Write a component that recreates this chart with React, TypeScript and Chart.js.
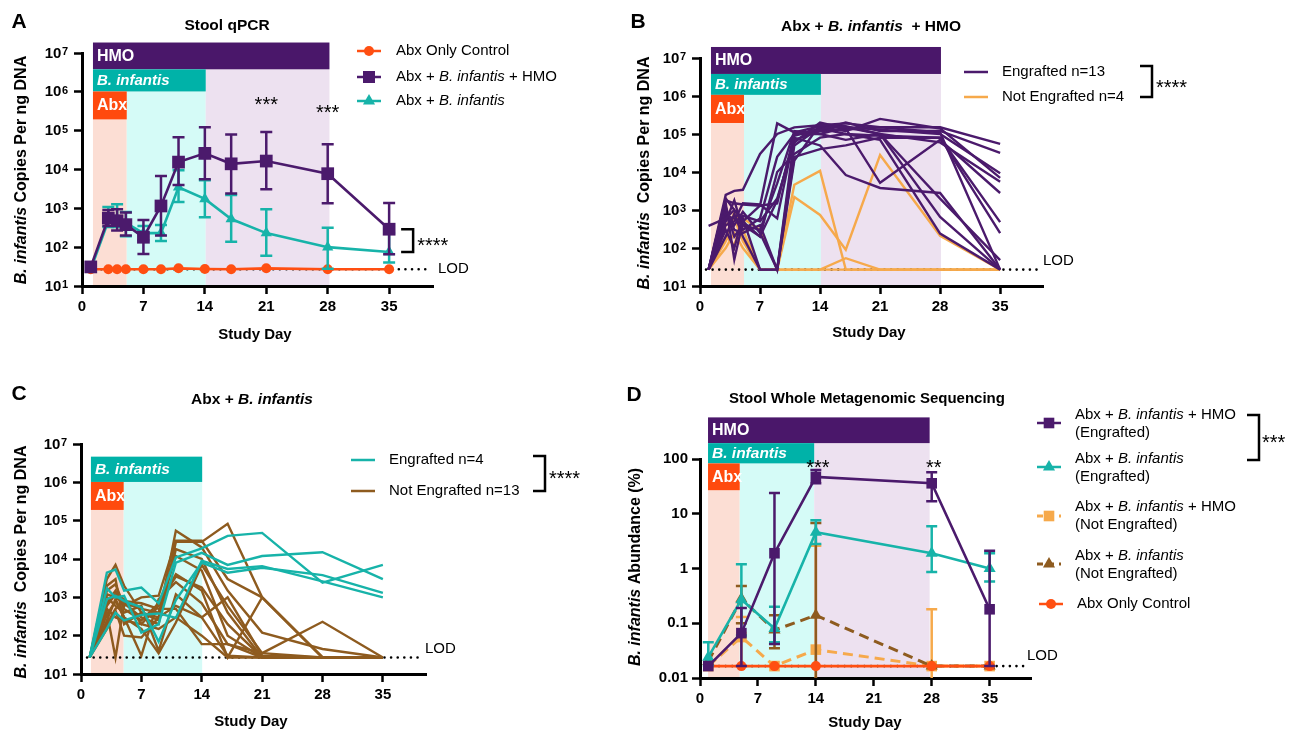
import React, { useEffect, useRef } from 'react';
import { Chart, registerables } from 'chart.js';

Chart.register(...registerables);

const FONT = '"Liberation Sans", Arial, Helvetica, sans-serif';

// ---------- colours ----------
const C_PURPLE = '#4B1A6C';
const C_TEAL = '#17B3A9';
const C_ORANGE = '#FF4F12';
const C_LIGHTOR = '#F6A94B';
const C_BROWN = '#8E5B1F';
const C_BAND_HMO = '#4A176A';
const C_BAND_BINF = '#00B2A8';
const C_BAND_ABX = '#FF4A0E';
const C_SH_ABX = '#FCDED4';
const C_SH_BINF = '#D5FBF7';
const C_SH_HMO = '#EDE1F0';

// ---------- shared axis data ----------
const studyDays = [1, 3, 4, 5, 7, 9, 11, 14, 17, 21, 28, 35];
const wmsDays = [1, 5, 9, 14, 28, 35];
const xTickValues = [0, 7, 14, 21, 28, 35];
const qpcrTickValues = [10, 100, 1000, 10000, 100000, 1000000, 10000000];
const qpcrTickExponents = ['1', '2', '3', '4', '5', '6', '7'];
const wmsTickValues = [0.01, 0.1, 1, 10, 100];
const wmsTickLabels = ['0.01', '0.1', '1', '10', '100'];
const qpcrLOD = 27;
const wmsLOD = 0.0165;

// ---------- Panel A : Stool qPCR (mean with error bars) ----------
const aControl = [27, 27, 27, 27, 27, 27, 28.5, 27.5, 27, 28.5, 27, 27];
const aHmo = [31, 560, 480, 380, 180, 1150, 15500, 26000, 14000, 16500, 7800, 290];
const aHmoHi = [31, 900, 950, 780, 500, 6800, 68000, 123000, 80000, 92000, 45000, 1370];
const aHmoLo = [31, 350, 270, 200, 67, 200, 4000, 5600, 2400, 3100, 1350, 66];
const aBinf = [27, 480, 470, 420, 230, 230, 3500, 1750, 530, 230, 100, 75];
const aBinfHi = [27, 1080, 1270, 800, 350, 370, 9500, 5300, 2200, 950, 315, 230];
const aBinfLo = [27, 330, 330, 190, 150, 145, 1450, 590, 137, 60, 28, 40];

// ---------- Panel B : Abx + B. infantis + HMO individual subjects ----------
const bEngrafted: number[][] = [
  [27, 2500, 3200, 3400, 30000, 100000, 150000, 170000, 190000, 150000, 150000, 55000],
  [380, 600, 1000, 500, 1300, 1500, 100000, 130000, 200000, 120000, 120000, 32000],
  [27, 1800, 1500, 1400, 1300, 190000, 110000, 160000, 150000, 130000, 100000, 9300],
  [27, 1200, 300, 250, 400, 27, 50000, 150000, 120000, 250000, 140000, 7000],
  [27, 500, 1800, 300, 600, 25000, 100000, 100000, 150000, 100000, 60000, 5500],
  [27, 900, 400, 900, 250, 27, 80000, 50000, 8300, 3800, 2800, 27],
  [27, 300, 100, 700, 500, 2000, 60000, 200000, 140000, 5200, 70000, 2800],
  [27, 1500, 50, 500, 200, 10000, 30000, 80000, 100000, 90000, 80000, 480],
  [27, 200, 800, 200, 27, 27, 25000, 40000, 50000, 80000, 80000, 245],
  [27, 700, 600, 400, 300, 5000, 120000, 100000, 70000, 100000, 660, 27],
  [27, 2000, 1000, 600, 27, 27, 20000, 180000, 160000, 100000, 2000, 48],
  [27, 400, 500, 1500, 1400, 600, 90000, 140000, 100000, 70000, 240, 27],
  [27, 1000, 200, 400, 200, 1800, 70000, 120000, 130000, 150000, 110000, 27],
];
const bNotEngrafted: number[][] = [
  [27, 150, 900, 300, 27, 27, 27, 27, 54, 27, 27, 27],
  [27, 100, 250, 100, 27, 27, 2200, 740, 90, 28000, 210, 27],
  [27, 200, 120, 600, 300, 27, 4600, 10700, 27, 27, 27, 27],
  [27, 400, 600, 150, 27, 27, 27, 27, 27, 27, 27, 27],
];

// ---------- Panel C : Abx + B. infantis individual subjects ----------
const cEngrafted: number[][] = [
  [27, 4400, 5300, 1500, 1800, 700, 11000, 19000, 40000, 48000, 2400, 7000],
  [27, 1700, 1000, 1100, 120, 200, 8000, 14500, 7000, 12000, 15000, 3000],
  [27, 900, 1100, 800, 550, 70, 850, 8000, 4400, 5900, 3800, 1300],
  [27, 150, 400, 250, 350, 380, 290, 9000, 5500, 6500, 2600, 1000],
];
const cNotEngrafted: number[][] = [
  [27, 3000, 7000, 2000, 400, 300, 55000, 20000, 1500, 120, 45, 27],
  [27, 1500, 2200, 600, 1000, 1100, 30000, 30000, 3000, 1000, 27, 27],
  [27, 400, 27, 700, 300, 200, 28000, 28000, 83000, 1000, 27, 27],
  [27, 600, 1200, 900, 200, 600, 4000, 1500, 27, 1000, 27, 27],
  [27, 250, 900, 300, 30, 900, 2500, 700, 60, 35, 230, 27],
  [27, 1000, 600, 400, 600, 40, 1200, 300, 1000, 30, 27, 27],
  [27, 200, 500, 800, 700, 500, 500, 60, 60, 27, 27, 27],
  [27, 700, 1500, 500, 250, 700, 3500, 1800, 200, 27, 27, 27],
  [27, 350, 800, 300, 150, 35, 220, 7000, 600, 35, 27, 27],
  [27, 2000, 3000, 200, 400, 250, 18000, 10000, 400, 27, 27, 27],
  [27, 150, 450, 100, 90, 300, 600, 300, 30, 27, 27, 27],
  [27, 1200, 1000, 700, 500, 400, 12000, 5000, 100, 27, 27, 27],
  [27, 500, 300, 250, 200, 150, 300, 100, 27, 27, 27, 27],
];

// ---------- Panel D : Stool whole metagenomic sequencing ----------
const dHmoEng = [0.0165, 0.066, 1.9, 47, 36, 0.18];
const dHmoEngHi = [0.0165, 0.19, 24, 63, 57, 2.1];
const dHmoEngLo = [0.0165, 0.0165, 0.042, 36, 17, 0.0165];
const dBinfEng = [0.024, 0.27, 0.08, 4.6, 1.9, 1.0];
const dBinfEngHi = [0.045, 1.2, 0.2, 7.6, 5.9, 1.9];
const dBinfEngLo = [0.017, 0.06, 0.045, 2.8, 0.86, 0.58];
const dHmoNot = [0.0165, 0.056, 0.0165, 0.033, 0.0165, 0.0165];
const dHmoNotHi = [0.0165, 0.13, 0.0165, 2.6, 0.18, 0.0165];
const dHmoNotLo = [0.0165, 0.0165, 0.0165, 0.01, 0.01, 0.0165];
const dBinfNot = [0.02, 0.28, 0.075, 0.14, 0.0165, 0.0165];
const dBinfNotHi = [0.02, 0.48, 0.14, 6.8, 0.0165, 0.0165];
const dBinfNotLo = [0.02, 0.1, 0.035, 0.01, 0.0165, 0.0165];
const dControl = [0.0165, 0.0165, 0.0165, 0.0165, 0.0165, 0.0165];

// ---------- drawing helpers ----------
type Seg = { t: string; i: boolean };
const parse = (s: string): Seg[] =>
  s.split('_').map((t, k) => ({ t, i: k % 2 === 1 })).filter((g) => g.t.length > 0);
const fnt = (size: number, bold: boolean, italic: boolean) =>
  `${italic ? 'italic ' : ''}${bold ? 'bold ' : ''}${size}px ${FONT}`;

function rich(ctx: CanvasRenderingContext2D, text: string, x: number, y: number, size: number, bold: boolean,
  align: string = 'left', color: string = '#000', rotate: boolean = false) {
  const segs = parse(text);
  ctx.save();
  ctx.fillStyle = color;
  ctx.textBaseline = 'middle';
  ctx.textAlign = 'left';
  const ws = segs.map((s) => { ctx.font = fnt(size, bold, s.i); return ctx.measureText(s.t).width; });
  const total = ws.reduce((a, b) => a + b, 0);
  ctx.translate(x, y);
  if (rotate) ctx.rotate(-Math.PI / 2);
  let cx = align === 'center' ? -total / 2 : align === 'right' ? -total : 0;
  segs.forEach((s, k) => { ctx.font = fnt(size, bold, s.i); ctx.fillText(s.t, cx, 0); cx += ws[k]; });
  ctx.restore();
}

function stars(ctx: CanvasRenderingContext2D, text: string, x: number, y: number, size: number, align: string) {
  ctx.save();
  ctx.fillStyle = '#000';
  ctx.font = fnt(size, false, false);
  ctx.textAlign = align as CanvasTextAlign;
  ctx.textBaseline = 'alphabetic';
  ctx.fillText(text, x, y + size * 0.58);
  ctx.restore();
}

function bracket(ctx: CanvasRenderingContext2D, x0: number, x1: number, yTop: number, yBot: number) {
  ctx.save();
  ctx.strokeStyle = '#000';
  ctx.lineWidth = 2.5;
  ctx.beginPath();
  ctx.moveTo(x0, yTop);
  ctx.lineTo(x1, yTop);
  ctx.lineTo(x1, yBot);
  ctx.lineTo(x0, yBot);
  ctx.stroke();
  ctx.restore();
}

function marker(ctx: CanvasRenderingContext2D, style: string, x: number, y: number, r: number, color: string) {
  ctx.save();
  ctx.fillStyle = color;
  ctx.beginPath();
  if (style === 'circle') ctx.arc(x, y, r, 0, Math.PI * 2);
  else if (style === 'rect') { const s = r * Math.SQRT1_2; ctx.rect(x - s, y - s, 2 * s, 2 * s); }
  else if (style === 'triangle') {
    for (let k = 0; k < 3; k++) {
      const a = (k * 2 * Math.PI) / 3;
      const px = x + Math.sin(a) * r, py = y - Math.cos(a) * r;
      if (k === 0) ctx.moveTo(px, py); else ctx.lineTo(px, py);
    }
    ctx.closePath();
  }
  ctx.fill();
  ctx.restore();
}

function legendSym(ctx: CanvasRenderingContext2D, x0: number, x1: number, y: number, color: string,
  o: { lw?: number; dash?: number[]; mk?: string; r?: number }) {
  ctx.save();
  ctx.strokeStyle = color;
  ctx.lineWidth = o.lw ?? 2.5;
  ctx.setLineDash(o.dash ?? []);
  ctx.beginPath();
  ctx.moveTo(x0, y);
  ctx.lineTo(x1, y);
  ctx.stroke();
  ctx.restore();
  if (o.mk) marker(ctx, o.mk, (x0 + x1) / 2, y, o.r ?? 6, color);
}

// ---------- dataset helpers ----------
const pts = (xs: number[], ys: number[]) => xs.map((x, k) => ({ x, y: ys[k] }));
const seriesDs = (label: string, days: number[], vals: number[], color: string, o: any = {}) => ({
  label,
  data: pts(days, vals),
  borderColor: color,
  backgroundColor: color,
  pointBackgroundColor: color,
  pointBorderColor: color,
  pointBorderWidth: 0,
  borderWidth: 2.4,
  pointRadius: 0,
  tension: 0,
  clip: false,
  ...o,
});
const lodDs = (lod: number) => ({
  label: 'LOD',
  data: [{ x: 0.7, y: lod }, { x: 39.3, y: lod }],
  borderColor: '#000',
  borderWidth: 2.6,
  borderDash: [0.01, 6.6],
  borderCapStyle: 'round',
  pointRadius: 0,
  clip: false,
});

interface Shade { x0: number; x1: number; yTop: number; color: string }
interface BandSpec { x0: number; x1: number; y0: number; y1: number; color: string; text: string; size: number }
interface Spec {
  off: [number, number];
  size: [number, number];
  pad: { left: number; right: number; top: number; bottom: number };
  yMin: number; yMax: number; yTicks: number[]; yLabels: string[]; supLabels: boolean;
  cap: number;
  datasets: any[];
  shades: Shade[];
  bands: BandSpec[];
  decor: (ctx: CanvasRenderingContext2D, px: (v: number) => number, py: (v: number) => number) => void;
}

const pw = (e: number) => Math.pow(10, e);

const specs: Spec[] = [
  // ----- A -----
  {
    off: [0, 0], size: [615, 366], pad: { left: 22, right: 182, top: 53, bottom: 40 },
    yMin: 10, yMax: 1e7, yTicks: qpcrTickValues, yLabels: qpcrTickExponents, supLabels: true, cap: 6,
    datasets: [
      seriesDs('Abx + B. infantis + HMO', studyDays, aHmo, C_PURPLE, { borderWidth: 2.6, pointRadius: 9, pointStyle: 'rect', errHi: aHmoHi, errLo: aHmoLo }),
      seriesDs('Abx + B. infantis', studyDays, aBinf, C_TEAL, { borderWidth: 2.6, pointRadius: 6.5, pointStyle: 'triangle', errHi: aBinfHi, errLo: aBinfLo }),
      seriesDs('Abx Only Control', studyDays, aControl, C_ORANGE, { borderWidth: 2.6, pointRadius: 5, pointStyle: 'circle' }),
      lodDs(qpcrLOD),
    ],
    shades: [
      { x0: 1.25, x1: 5.1, yTop: pw(5.29), color: C_SH_ABX },
      { x0: 5.1, x1: 14.1, yTop: pw(6.01), color: C_SH_BINF },
      { x0: 14.1, x1: 28.2, yTop: pw(6.58), color: C_SH_HMO },
    ],
    bands: [
      { x0: 1.25, x1: 28.2, y0: pw(6.58), y1: pw(7.27), color: C_BAND_HMO, text: 'HMO', size: 16 },
      { x0: 1.25, x1: 14.1, y0: pw(6.01), y1: pw(6.58), color: C_BAND_BINF, text: '_B. infantis_', size: 15 },
      { x0: 1.25, x1: 5.1, y0: pw(5.29), y1: pw(6.01), color: C_BAND_ABX, text: 'Abx', size: 16 },
    ],
    decor: (ctx, px, py) => {
      rich(ctx, 'A', 19, 22, 21, true, 'center');
      rich(ctx, 'Stool qPCR', 227, 26, 15.5, true, 'center');
      rich(ctx, '_B. infantis_ Copies Per ng DNA', 22, 170, 16, true, 'center', '#000', true);
      rich(ctx, 'Study Day', 255, 335, 15, true, 'center');
      legendSym(ctx, 357, 381, 51, C_ORANGE, { mk: 'circle', r: 5 });
      rich(ctx, 'Abx Only Control', 396, 51, 15, false);
      legendSym(ctx, 357, 381, 77, C_PURPLE, { mk: 'rect', r: 8.5 });
      rich(ctx, 'Abx + _B. infantis_ + HMO', 396, 77, 15, false);
      legendSym(ctx, 357, 381, 101, C_TEAL, { mk: 'triangle', r: 7 });
      rich(ctx, 'Abx + _B. infantis_', 396, 101, 15, false);
      stars(ctx, '***', px(21), py(6.5e5), 20, 'center');
      stars(ctx, '***', px(28), py(4e5), 20, 'center');
      const bx = px(35) + 12;
      const yt = py(aHmo[11]), yb = py(aBinf[11]);
      bracket(ctx, bx, bx + 12, yt, yb);
      stars(ctx, '****', bx + 16, (yt + yb) / 2, 20, 'left');
      rich(ctx, 'LOD', px(40) + 5, py(qpcrLOD), 15, false);
    },
  },
  // ----- B -----
  {
    off: [615, 0], size: [674, 366], pad: { left: 25, right: 246, top: 58, bottom: 40 },
    yMin: 10, yMax: 1e7, yTicks: qpcrTickValues, yLabels: qpcrTickExponents, supLabels: true, cap: 6,
    datasets: [
      ...bEngrafted.map((v, k) => seriesDs(`Engrafted ${k + 1}`, studyDays, v, C_PURPLE)),
      ...bNotEngrafted.map((v, k) => seriesDs(`Not Engrafted ${k + 1}`, studyDays, v, C_LIGHTOR)),
      lodDs(qpcrLOD),
    ],
    shades: [
      { x0: 1.28, x1: 5.13, yTop: pw(5.29), color: C_SH_ABX },
      { x0: 5.13, x1: 14.1, yTop: pw(6.03), color: C_SH_BINF },
      { x0: 14.1, x1: 28.1, yTop: pw(6.58), color: C_SH_HMO },
    ],
    bands: [
      { x0: 1.28, x1: 28.1, y0: pw(6.58), y1: pw(7.29), color: C_BAND_HMO, text: 'HMO', size: 16 },
      { x0: 1.28, x1: 14.1, y0: pw(6.03), y1: pw(6.58), color: C_BAND_BINF, text: '_B. infantis_', size: 15 },
      { x0: 1.28, x1: 5.13, y0: pw(5.29), y1: pw(6.03), color: C_BAND_ABX, text: 'Abx', size: 16 },
    ],
    decor: (ctx, px, py) => {
      rich(ctx, 'B', 638, 22, 21, true, 'center');
      rich(ctx, 'Abx + _B. infantis_  + HMO', 871, 27, 15.5, true, 'center');
      rich(ctx, '_B. infantis_  Copies Per ng DNA', 645, 173, 16, true, 'center', '#000', true);
      rich(ctx, 'Study Day', 869, 333, 15, true, 'center');
      legendSym(ctx, 964, 988, 72, C_PURPLE, {});
      rich(ctx, 'Engrafted n=13', 1002, 72, 15, false);
      legendSym(ctx, 964, 988, 97, C_LIGHTOR, {});
      rich(ctx, 'Not Engrafted n=4', 1002, 97, 15, false);
      bracket(ctx, 1140, 1152, 66, 97);
      stars(ctx, '****', 1156, 82, 20, 'left');
      rich(ctx, 'LOD', px(40), py(qpcrLOD) - 9, 15, false);
    },
  },
  // ----- C -----
  {
    off: [0, 366], size: [615, 366], pad: { left: 21, right: 189, top: 78, bottom: 18 },
    yMin: 10, yMax: 1e7, yTicks: qpcrTickValues, yLabels: qpcrTickExponents, supLabels: true, cap: 6,
    datasets: [
      ...cEngrafted.map((v, k) => seriesDs(`Engrafted ${k + 1}`, studyDays, v, C_TEAL)),
      ...cNotEngrafted.map((v, k) => seriesDs(`Not Engrafted ${k + 1}`, studyDays, v, C_BROWN)),
      lodDs(qpcrLOD),
    ],
    shades: [
      { x0: 1.15, x1: 4.95, yTop: pw(5.28), color: C_SH_ABX },
      { x0: 4.95, x1: 14.05, yTop: pw(6.01), color: C_SH_BINF },
    ],
    bands: [
      { x0: 1.15, x1: 14.05, y0: pw(6.01), y1: pw(6.67), color: C_BAND_BINF, text: '_B. infantis_', size: 15.5 },
      { x0: 1.15, x1: 4.95, y0: pw(5.28), y1: pw(6.01), color: C_BAND_ABX, text: 'Abx', size: 16 },
    ],
    decor: (ctx, px, py) => {
      rich(ctx, 'C', 19, 394, 21, true, 'center');
      rich(ctx, 'Abx + _B. infantis_', 252, 400, 15.5, true, 'center');
      rich(ctx, '_B. infantis_  Copies Per ng DNA', 22, 562, 16, true, 'center', '#000', true);
      rich(ctx, 'Study Day', 251, 722, 15, true, 'center');
      legendSym(ctx, 351, 375, 460, C_TEAL, {});
      rich(ctx, 'Engrafted n=4', 389, 460, 15, false);
      legendSym(ctx, 351, 375, 491, C_BROWN, {});
      rich(ctx, 'Not Engrafted n=13', 389, 491, 15, false);
      bracket(ctx, 533, 545, 456, 491);
      stars(ctx, '****', 549, 473, 20, 'left');
      rich(ctx, 'LOD', px(40) - 1, py(qpcrLOD) - 9, 15, false);
    },
  },
  // ----- D -----
  {
    off: [615, 366], size: [674, 366], pad: { left: 25, right: 258, top: 93, bottom: 14 },
    yMin: 0.01, yMax: 100, yTicks: wmsTickValues, yLabels: wmsTickLabels, supLabels: false, cap: 5.5,
    datasets: [
      seriesDs('Abx + B. infantis + HMO (Engrafted)', wmsDays, dHmoEng, C_PURPLE, { borderWidth: 2.6, pointRadius: 7.5, pointStyle: 'rect', errHi: dHmoEngHi, errLo: dHmoEngLo }),
      seriesDs('Abx + B. infantis (Engrafted)', wmsDays, dBinfEng, C_TEAL, { borderWidth: 2.6, pointRadius: 7, pointStyle: 'triangle', errHi: dBinfEngHi, errLo: dBinfEngLo }),
      seriesDs('Abx Only Control', wmsDays, dControl, C_ORANGE, { borderWidth: 2.6, pointRadius: 5, pointStyle: 'circle' }),
      seriesDs('Abx + B. infantis (Not Engrafted)', wmsDays, dBinfNot, C_BROWN, { borderWidth: 3, borderDash: [10, 6], pointRadius: 7, pointStyle: 'triangle', errHi: dBinfNotHi, errLo: dBinfNotLo }),
      seriesDs('Abx + B. infantis + HMO (Not Engrafted)', wmsDays, dHmoNot, C_LIGHTOR, { borderWidth: 3, borderDash: [10, 6], pointRadius: 7.5, pointStyle: 'rect', errHi: dHmoNotHi, errLo: dHmoNotLo }),
      lodDs(wmsLOD),
    ],
    shades: [
      { x0: 0.97, x1: 4.8, yTop: pw(1.43), color: C_SH_ABX },
      { x0: 4.8, x1: 13.8, yTop: pw(1.92), color: C_SH_BINF },
      { x0: 13.8, x1: 27.75, yTop: pw(2.29), color: C_SH_HMO },
    ],
    bands: [
      { x0: 0.97, x1: 27.75, y0: pw(2.29), y1: pw(2.76), color: C_BAND_HMO, text: 'HMO', size: 16 },
      { x0: 0.97, x1: 13.8, y0: pw(1.92), y1: pw(2.29), color: C_BAND_BINF, text: '_B. infantis_', size: 15.5 },
      { x0: 0.97, x1: 4.8, y0: pw(1.43), y1: pw(1.92), color: C_BAND_ABX, text: 'Abx', size: 16 },
    ],
    decor: (ctx, px, py) => {
      rich(ctx, 'D', 634, 395, 21, true, 'center');
      rich(ctx, 'Stool Whole Metagenomic Sequencing', 867, 399, 15, true, 'center');
      rich(ctx, '_B. infantis_ Abundance (%)', 636, 567, 16, true, 'center', '#000', true);
      rich(ctx, 'Study Day', 865, 723, 15, true, 'center');
      const sx0 = 1037, sx1 = 1061, tx = 1075;
      legendSym(ctx, sx0, sx1, 423, C_PURPLE, { mk: 'rect', r: 7.5 });
      rich(ctx, 'Abx + _B. infantis_ + HMO', tx, 415, 15, false);
      rich(ctx, '(Engrafted)', tx, 433, 15, false);
      legendSym(ctx, sx0, sx1, 467, C_TEAL, { mk: 'triangle', r: 7 });
      rich(ctx, 'Abx + _B. infantis_', tx, 459, 15, false);
      rich(ctx, '(Engrafted)', tx, 477, 15, false);
      legendSym(ctx, sx0, sx1, 516, C_LIGHTOR, { mk: 'rect', r: 7.5, dash: [6, 5], lw: 3 });
      rich(ctx, 'Abx + _B. infantis_ + HMO', tx, 507, 15, false);
      rich(ctx, '(Not Engrafted)', tx, 525, 15, false);
      legendSym(ctx, sx0, sx1, 564, C_BROWN, { mk: 'triangle', r: 7, dash: [6, 5], lw: 3 });
      rich(ctx, 'Abx + _B. infantis_', tx, 556, 15, false);
      rich(ctx, '(Not Engrafted)', tx, 574, 15, false);
      legendSym(ctx, sx0 + 2, sx1 + 2, 604, C_ORANGE, { mk: 'circle', r: 5 });
      rich(ctx, 'Abx Only Control', tx + 2, 604, 15, false);
      bracket(ctx, 1247, 1259, 415, 460);
      stars(ctx, '***', 1262, 437, 20, 'left');
      stars(ctx, '***', px(14) + 2, 462, 20, 'center');
      stars(ctx, '**', px(28) + 2, 462, 20, 'center');
      rich(ctx, 'LOD', px(40) - 4, py(wmsLOD) - 10, 15, false);
    },
  },
];

function makeChart(canvas: HTMLCanvasElement, s: Spec) {
  const tickFont = { family: FONT, size: 15, weight: 'bold' as const };
  const gridOpts = { display: true, drawOnChartArea: false, drawTicks: true, tickLength: 8, tickWidth: 2.5, tickColor: '#000', color: '#000' };
  const borderOpts = { display: true, color: '#000', width: 3 };
  const plugin = {
    id: 'panelDecor',
    beforeDraw(chart: any) {
      const { ctx, chartArea } = chart;
      const xs = chart.scales.x, ys = chart.scales.y;
      ctx.save();
      s.shades.forEach((sh) => {
        const x0 = xs.getPixelForValue(sh.x0), x1 = xs.getPixelForValue(sh.x1), y0 = ys.getPixelForValue(sh.yTop);
        ctx.fillStyle = sh.color;
        ctx.fillRect(x0, y0, x1 - x0, chartArea.bottom - y0);
      });
      s.bands.forEach((b) => {
        const x0 = xs.getPixelForValue(b.x0), x1 = xs.getPixelForValue(b.x1);
        const yA = ys.getPixelForValue(b.y1), yB = ys.getPixelForValue(b.y0);
        ctx.fillStyle = b.color;
        ctx.fillRect(x0, yA, x1 - x0, yB - yA);
        rich(ctx, b.text, x0 + 4, (yA + yB) / 2 + 0.5, b.size, true, 'left', '#fff');
      });
      ctx.restore();
    },
    beforeDatasetDraw(chart: any, args: any) {
      const ds = chart.data.datasets[args.index];
      if (!ds.errHi) return;
      const { ctx, chartArea } = chart;
      const xs = chart.scales.x, ys = chart.scales.y;
      ctx.save();
      ctx.beginPath();
      ctx.rect(chartArea.left, chartArea.top - 40, chartArea.right - chartArea.left, chartArea.bottom - chartArea.top + 40);
      ctx.clip();
      ctx.strokeStyle = ds.borderColor;
      ctx.lineWidth = 2.5;
      ctx.setLineDash([]);
      ds.data.forEach((p: any, k: number) => {
        const hi = ds.errHi[k], lo = ds.errLo[k];
        const x = xs.getPixelForValue(p.x);
        const yh = ys.getPixelForValue(hi), yl = ys.getPixelForValue(lo);
        if (Math.abs(yh - yl) < 1) return;
        ctx.beginPath();
        ctx.moveTo(x, yh);
        ctx.lineTo(x, yl);
        if (hi > p.y) { ctx.moveTo(x - s.cap, yh); ctx.lineTo(x + s.cap, yh); }
        if (lo < p.y && lo > s.yMin * 1.05) { ctx.moveTo(x - s.cap, yl); ctx.lineTo(x + s.cap, yl); }
        ctx.stroke();
      });
      ctx.restore();
    },
    afterDraw(chart: any) {
      const ctx = chart.ctx;
      const xs = chart.scales.x, ys = chart.scales.y;
      // superscript tick labels "10^n" placed at the y scale's tick positions
      if (s.supLabels) {
        const right = chart.chartArea.left - 14;
        ys.ticks.forEach((t: any, i: number) => {
          const y = ys.getPixelForValue(t.value);
          const exp = s.yLabels[i];
          ctx.save();
          ctx.fillStyle = '#000';
          ctx.font = fnt(11, true, false);
          const ew = ctx.measureText(exp).width;
          ctx.textAlign = 'left';
          ctx.textBaseline = 'alphabetic';
          ctx.fillText(exp, right - ew, y + 2);
          ctx.font = fnt(15, true, false);
          ctx.textAlign = 'right';
          ctx.textBaseline = 'middle';
          ctx.fillText('10', right - ew - 0.5, y + 0.5);
          ctx.restore();
        });
      }
      ctx.save();
      ctx.translate(-s.off[0], -s.off[1]);
      s.decor(ctx, (v) => xs.getPixelForValue(v) + s.off[0], (v) => ys.getPixelForValue(v) + s.off[1]);
      ctx.restore();
    },
  };
  return new Chart(canvas, {
    type: 'line',
    data: { datasets: s.datasets },
    options: {
      responsive: false,
      maintainAspectRatio: false,
      animation: false,
      devicePixelRatio: 1,
      events: [],
      layout: { padding: s.pad },
      plugins: { legend: { display: false }, tooltip: { enabled: false }, title: { display: false } },
      scales: {
        x: {
          type: 'linear', min: 0, max: 40,
          afterBuildTicks: (sc: any) => { sc.ticks = xTickValues.map((v) => ({ value: v })); },
          afterFit: (sc: any) => { sc.height = 40; },
          ticks: { autoSkip: false, maxRotation: 0, minRotation: 0, padding: 4, color: '#000', font: tickFont, callback: (v: any) => String(v) },
          grid: gridOpts,
          border: borderOpts,
        },
        y: {
          type: 'logarithmic', min: s.yMin, max: s.yMax,
          afterBuildTicks: (sc: any) => { sc.ticks = s.yTicks.map((v) => ({ value: v })); },
          afterFit: (sc: any) => { sc.width = 60; },
          ticks: {
            display: !s.supLabels, autoSkip: false, padding: 4, color: '#000', font: tickFont,
            callback: (_v: any, i: number) => s.yLabels[i],
          },
          grid: gridOpts,
          border: borderOpts,
        },
      },
    } as any,
    plugins: [plugin],
  });
}

export default function App() {
  const r0 = useRef<HTMLCanvasElement>(null);
  const r1 = useRef<HTMLCanvasElement>(null);
  const r2 = useRef<HTMLCanvasElement>(null);
  const r3 = useRef<HTMLCanvasElement>(null);
  const refs = [r0, r1, r2, r3];
  useEffect(() => {
    const charts = specs.map((s, i) => makeChart(refs[i].current as HTMLCanvasElement, s));
    return () => charts.forEach((c) => c.destroy());
  }, []);
  return (
    <div style={{ position: 'fixed', left: 0, top: 0, width: 1289, height: 732, background: '#fff', overflow: 'hidden' }}>
      {specs.map((s, i) => (
        <canvas
          key={i}
          ref={refs[i]}
          width={s.size[0]}
          height={s.size[1]}
          style={{ position: 'absolute', left: s.off[0], top: s.off[1], width: s.size[0], height: s.size[1] }}
        />
      ))}
    </div>
  );
}
